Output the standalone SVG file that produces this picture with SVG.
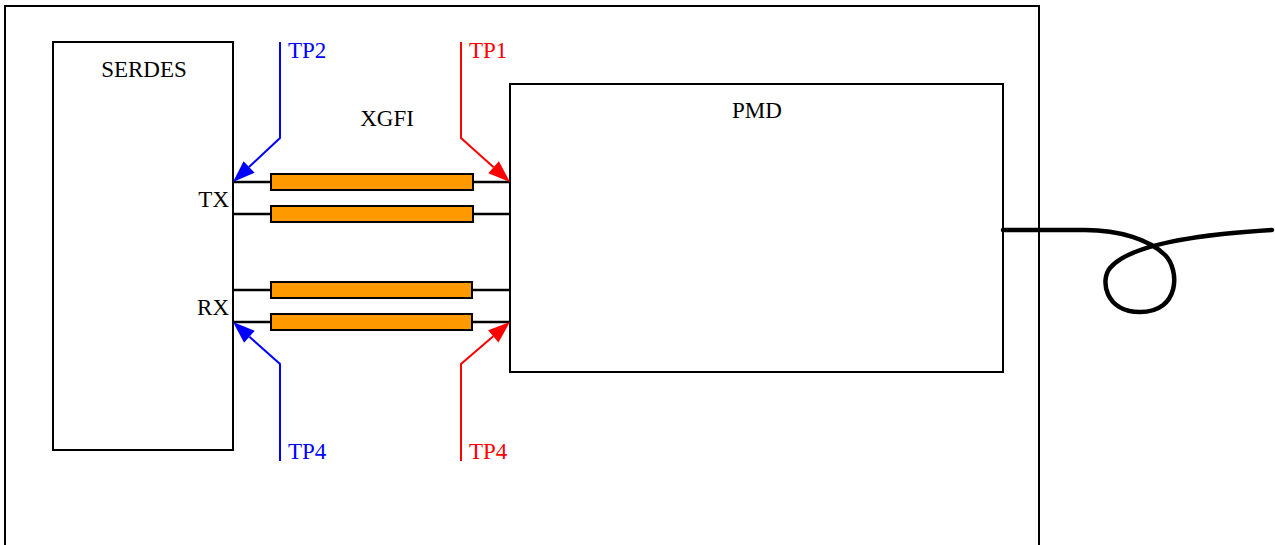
<svg xmlns="http://www.w3.org/2000/svg" width="1275" height="545" viewBox="0 0 1275 545">
<style>
text{font-family:"Liberation Serif","Times New Roman",serif;font-size:23px;fill:#000}
.box{fill:#fff;stroke:#000;stroke-width:2}
.wire{stroke:#000;stroke-width:2.5;fill:none}
.cable{fill:#ff9900;stroke:#000;stroke-width:2}
.blue{stroke:#0000ff;stroke-width:2;fill:none}
.red{stroke:#ff0000;stroke-width:2;fill:none}
.bh{fill:#0000ff}
.rh{fill:#ff0000}
</style>
<rect width="1275" height="545" fill="#fff"/>
<g id="outer"><path d="M5,550 V6 H1039 V550" class="box" fill="none"/></g>
<g id="serdes">
<rect x="53" y="42" width="180" height="408" class="box"/>
<text x="144" y="77" text-anchor="middle">SERDES</text>
<text x="229" y="207" text-anchor="end">TX</text>
<text x="229" y="315" text-anchor="end">RX</text>
</g>
<g id="pmd">
<rect x="510" y="84" width="493" height="288" class="box"/>
<text x="757" y="118" text-anchor="middle">PMD</text>
</g>
<g id="xgfi">
<text x="387" y="126" text-anchor="middle">XGFI</text>
</g>
<g id="connectors">
<line x1="233" y1="182" x2="510" y2="182" class="wire"/>
<line x1="233" y1="214" x2="510" y2="214" class="wire"/>
<line x1="233" y1="290" x2="510" y2="290" class="wire"/>
<line x1="233" y1="322" x2="510" y2="322" class="wire"/>
<rect x="271" y="174" width="202" height="16" class="cable"/>
<rect x="271" y="206" width="202" height="16" class="cable"/>
<rect x="271" y="282" width="201" height="16" class="cable"/>
<rect x="271" y="314" width="201" height="16" class="cable"/>
<path d="M280,42 V138 L249,167" class="blue"/>
<polygon points="233,182 254.6,172.8 243.6,161.2" class="bh"/>
<path d="M461,42 V138 L493.6,167.3" class="red"/>
<polygon points="510,182 488.3,173.3 498.9,161.3" class="rh"/>
<path d="M280,461 V364 L249.4,336.7" class="blue"/>
<polygon points="233,322 254.7,330.7 244.1,342.7" class="bh"/>
<path d="M461,461 V364 L493.3,336.3" class="red"/>
<polygon points="510,322 498.5,342.4 488.1,330.2" class="rh"/>
<path d="M1003,230 H1085 C1120,230 1150,240 1165,255 C1180,270 1180,312 1140,312 C1105,312 1100,280 1110,268 C1125,250 1170,236 1272,230" stroke="#000" stroke-width="4.5" fill="none" stroke-linecap="round"/>
</g>
<g id="labels">
<text x="288" y="58" style="fill:#0000ff">TP2</text>
<text x="469" y="58" style="fill:#ff0000">TP1</text>
<text x="288" y="459" style="fill:#0000ff">TP4</text>
<text x="469" y="459" style="fill:#ff0000">TP4</text>
</g>
</svg>
